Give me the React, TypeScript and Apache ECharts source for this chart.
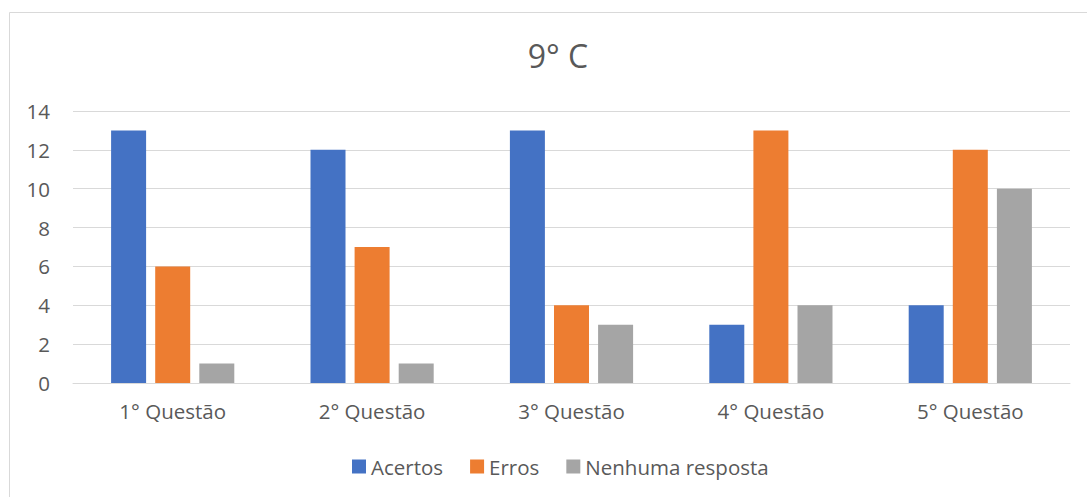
import React, { useEffect, useRef } from "react";
import * as echarts from "echarts";

const categories = ["1° Questão", "2° Questão", "3° Questão", "4° Questão", "5° Questão"];
const acertos = [13, 12, 13, 3, 4];
const erros = [6, 7, 4, 13, 12];
const nenhuma = [1, 1, 3, 4, 10];
const seriesNames = ["Acertos", "Erros", "Nenhuma resposta"];
const colors = ["#4472C4", "#ED7D31", "#A5A5A5"];

export default function App() {
  const ref = useRef<HTMLDivElement>(null);
  useEffect(() => {
    if (!ref.current) return;
    const chart = echarts.init(ref.current, null, { renderer: "svg" });
    const font = "'Open Sans', 'Liberation Sans', Arial, sans-serif";
    const data = [acertos, erros, nenhuma];
    chart.setOption({
      animation: false,
      textStyle: { fontFamily: font },
      graphic: [
        {
          type: "rect",
          shape: { x: 9.5, y: 12.5, width: 1100, height: 500 },
          style: { fill: "none", stroke: "#D9D9D9", lineWidth: 1 },
          silent: true,
        },
      ],
      title: {
        text: "9° C",
        left: 553,
        textAlign: "center",
        top: 34,
        textStyle: { fontSize: 32, fontWeight: "normal", color: "#595959", fontFamily: font },
      },
      legend: {
        bottom: 15,
        left: 347,
        itemWidth: 14,
        itemHeight: 14,
        itemGap: 27,
        icon: "rect",
        textStyle: { fontSize: 20.5, color: "#595959", fontFamily: font },
        data: seriesNames,
      },
      grid: { left: 73, right: 17, top: 111, bottom: 114, containLabel: false },
      xAxis: {
        type: "category",
        data: categories,
        axisLine: { lineStyle: { color: "#D9D9D9", width: 1 } },
        axisTick: { show: false },
        axisLabel: { fontSize: 20.5, color: "#595959", margin: 17, fontFamily: font },
      },
      yAxis: {
        type: "value",
        min: 0,
        max: 14,
        interval: 2,
        axisLine: { show: false },
        axisTick: { show: false },
        splitLine: { lineStyle: { color: "#D9D9D9", width: 1 } },
        axisLabel: { fontSize: 20.5, color: "#595959", margin: 23, fontFamily: font },
      },
      series: seriesNames.map((name, i) => ({
        name,
        type: "bar",
        data: data[i],
        barWidth: 35,
        barGap: "26%",
        itemStyle: { color: colors[i] },
      })),
    });
    return () => chart.dispose();
  }, []);
  return (
    <div
      ref={ref}
      style={{ position: "fixed", left: 0, top: 0, width: 1087, height: 497, background: "#fff" }}
    />
  );
}
